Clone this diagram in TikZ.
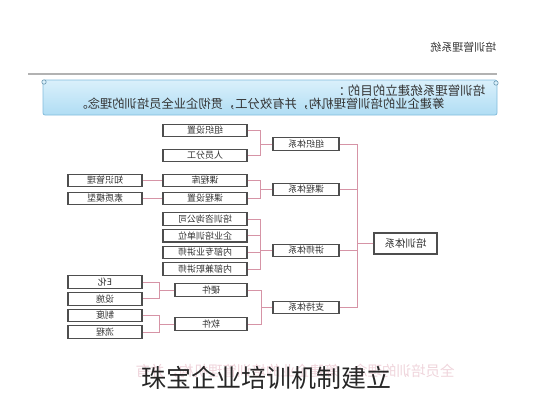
\documentclass[tikz,border=0pt]{standalone}
\usepackage{fontspec}
\setmainfont{Noto Sans CJK SC}
\usetikzlibrary{positioning}
\definecolor{linkpink}{RGB}{214,148,166}
\definecolor{boxgray}{RGB}{78,78,78}
\definecolor{panelrim}{RGB}{130,188,220}
\definecolor{paneltop}{RGB}{218,240,251}
\definecolor{panelbot}{RGB}{176,221,244}
\tikzset{
	box/.style={draw=boxgray, line width=1.1pt, fill=white, inner sep=0pt,
		minimum height=12.5pt, text=black!80, font=\fontsize{9}{9}\selectfont}, % every framed label
	leaf/.style={box, minimum width=84pt}, % second column
	group/.style={box, minimum width=66pt}, % the four systems
	outer/.style={box, minimum width=74pt}, % left column
	ware/.style={box, minimum width=72pt},
	root/.style={box, minimum width=63pt, minimum height=21pt, font=\fontsize{10.5}{10.5}\selectfont},
	link/.style={draw=linkpink, line width=0.8pt}, % pink connectors
}
\begin{document}
\begin{tikzpicture}[x=1pt, y=-1pt]
	\useasboundingbox (0,0) rectangle (533,400);
	% header
	\node[anchor=east, text=black!80, font=\fontsize{11}{11}\selectfont] (head) at (500,47) {\reflectbox{培训管理系统}};
	\draw[black!30, line width=2pt] (28,74) -- (497,74);
	\draw[draw=panelrim, top color=paneltop, bottom color=panelbot, rounded corners=2pt, line width=0.8pt] (43,80) rectangle (497,115);
	\draw[panelrim!80!black, fill=paneltop, line width=0.6pt] (44,82) circle (2.2) (496,83) circle (2.2);
	\node[anchor=east, text=black!80, font=\fontsize{12.5}{12.5}\selectfont] (aim1) at (489,91) {\reflectbox{培训管理系统建立的目的 ：}};
	\node[anchor=east, text=black!80, font=\fontsize{12.3}{12.3}\selectfont] (aim2) at (448,104) {\reflectbox{筹建企业的培训管理机构，并有效分工，贯彻企业全员培训的理念。}};

	% tree
	\node[root] (t0) at (405.5,243.5) {\reflectbox{培训体系}};
	\node[group] (g1) at (306,144) {\reflectbox{组织体系}};
	\node[group] (g2) at (306,189.5) {\reflectbox{课程体系}};
	\node[group] (g3) at (306,250.5) {\reflectbox{讲师体系}};
	\node[group] (g4) at (306,307.5) {\reflectbox{支持体系}};

	\node[leaf] (l1) at (205,130.5) {\reflectbox{组织设置}};
	\node[leaf] (l2) at (205,155.5) {\reflectbox{人员分工}};
	\node[leaf] (l3) at (205,180.5) {\reflectbox{课程库}};
	\node[leaf] (l4) at (205,198.5) {\reflectbox{课程设置}};
	\node[leaf] (l5) at (205,219) {\reflectbox{培训咨询公司}};
	\node[leaf, below of=l5, node distance=16.7pt] (l6) {\reflectbox{企业培训单位}};
	\node[leaf, below of=l6, node distance=16.7pt] (l7) {\reflectbox{内部专业讲师}};
	\node[leaf, below of=l7, node distance=16.7pt] (l8) {\reflectbox{内部兼职讲师}};

	\node[ware] (h1) at (211,290) {\reflectbox{硬件}};
	\node[ware] (h2) at (211,324) {\reflectbox{软件}};

	\node[outer] (o1) at (105,180.5) {\reflectbox{知识管理}};
	\node[outer] (o2) at (105,198.5) {\reflectbox{素质模型}};
	\node[outer] (o3) at (105,282) {\reflectbox{E化}};
	\node[outer, below of=o3, node distance=16.8pt] (o4) {\reflectbox{设施}};
	\node[outer] (o5) at (105,315.5) {\reflectbox{制度}};
	\node[outer, below of=o5, node distance=16.6pt] (o6) {\reflectbox{流程}};

	\coordinate (bus) at (357,0);
	\coordinate (f1) at (260,0);
	\coordinate (f2) at (261,0);
	\coordinate (f3) at (159,0);

	\draw[link] (bus |- g1.east) -- (bus |- g4.east);
	\draw[link] (t0.west) -- (bus |- t0.west);
	\foreach \g in {g1,g2,g3,g4}
		\draw[link] (\g.east) -- (bus |- \g.east);
	%
	\draw[link] (l1.east) -| (f1 |- l2.east) -- (l2.east);
	\draw[link] (g1.west) -- (f1 |- g1.west);
	\draw[link] (l3.east) -| (f1 |- l4.east) -- (l4.east);
	\draw[link] (g2.west) -- (f1 |- g2.west);
	\draw[link] (l5.east) -| (f1 |- l8.east) -- (l8.east);
	\draw[link] (l6.east) -- (f1 |- l6.east) (l7.east) -- (f1 |- l7.east);
	\draw[link] (g3.west) -- (f1 |- g3.west);
	\draw[link] (h1.east) -| (f2 |- h2.east) -- (h2.east);
	\draw[link] (g4.west) -- (f2 |- g4.west);
	%
	\draw[link] (o1.east) -- (l3.west);
	\draw[link] (o2.east) -- (l4.west);
	\draw[link] (o3.east) -| (f3 |- o4.east) -- (o4.east);
	\draw[link] (h1.west) -- (f3 |- h1.west);
	\draw[link] (o5.east) -| (f3 |- o6.east) -- (o6.east);
	\draw[link] (h2.west) -- (f3 |- h2.west);

	% footer
	\node[text=linkpink!40, font=\fontsize{14.5}{14.5}\selectfont] (ghost) at (295,371) {\reflectbox{全员培训的理念。筹建企业的培训管理机构，并有}};
	\node[text=black!85, font=\fontsize{25}{25}\selectfont] (cap) at (266,377.5) {珠宝企业培训机制建立};
\end{tikzpicture}
\end{document}
